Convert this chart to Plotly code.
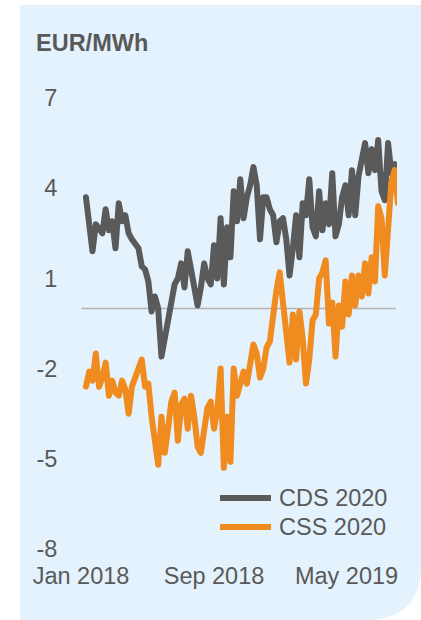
import plotly.graph_objects as go
import pandas as pd

# ---- data ----
series_names = ["CDS 2020", "CSS 2020"]
cds_2020 = [3.7, 2.6, 1.9, 2.8, 2.6, 2.5, 3.3, 2.6, 2.9, 2.0,
            3.5, 2.9, 3.1, 2.5, 2.3, 2.1, 2.0, 1.4, 1.3, 0.9,
            -0.1, 0.4, 0.0, -1.6, -1.0, -0.6, 0.2, 0.8, 1.0, 1.5,
            0.7, 1.9, 1.3, 0.6, 0.1, 0.7, 1.5, 1.0, 0.8, 2.1,
            1.0, 3.0, 0.8, 2.7, 1.7, 3.9, 2.9, 4.3, 3.0, 3.7,
            4.1, 4.7, 4.1, 2.3, 3.7, 3.7, 3.3, 3.1, 2.2, 2.9,
            3.0, 2.3, 1.1, 2.0, 3.1, 1.7, 3.5, 3.1, 4.3, 2.7,
            2.4, 3.9, 2.6, 3.5, 2.8, 4.5, 2.4, 2.8, 3.7, 4.1,
            3.1, 4.6, 3.1, 4.4, 5.0, 5.5, 4.5, 5.3, 4.6, 5.6,
            3.9, 3.6, 5.5, 4.5, 4.8, 4.7]
css_2020 = [-2.6, -2.1, -2.4, -1.5, -2.6, -2.3, -1.8, -2.9, -2.4, -2.8,
            -2.9, -2.4, -2.7, -3.5, -2.6, -2.3, -2.0, -1.7, -2.6, -2.5,
            -3.6, -4.6, -5.2, -3.6, -4.8, -4.0, -3.1, -2.8, -4.4, -3.2,
            -3.0, -4.0, -2.9, -3.6, -4.6, -4.8, -4.0, -3.3, -3.1, -4.0,
            -3.4, -2.0, -5.3, -3.6, -5.1, -2.0, -2.9, -2.4, -2.1, -2.5,
            -1.9, -1.2, -1.5, -2.3, -2.0, -1.3, -1.1, -0.1, 0.6, 1.2,
            0.2, -1.2, -1.8, -0.2, -1.7, -0.1, -1.0, -2.5, -1.7, -0.4,
            -0.2, 1.0, 1.2, 1.6, -0.5, 0.2, -1.6, 0.1, -0.6, 0.9,
            -0.2, 1.1, 0.1, 1.1, 0.4, 1.5, 0.5, 1.7, 0.9, 3.4,
            3.0, 1.1, 3.1, 4.2, 4.6, 3.5]
start_date = "2018-01-10"
date_step = "6D"
x_tick_dates = ["2018-01-01", "2018-09-01", "2019-05-01"]
x_tick_labels = ["Jan 2018", "Sep 2018", "May 2019"]
y_tick_values = [7, 4, 1, -2, -5, -8]
y_tick_labels = ["7", "4", "1", "-2", "-5", "-8"]
unit_label = "EUR/MWh"

dates = pd.date_range(start_date, periods=len(cds_2020), freq=date_step)

# ---- styling ----
W, H = 421, 620
ML, MR, MT, MB = 80, 24, 98, 71
PW, PH = W - ML - MR, H - MT - MB
GRAY = "#5a5a5a"
ORANGE = "#ef8b1f"
TEXT = "#595959"
BG = "#e3f2fc"
FONT = "Liberation Sans, Arial, sans-serif"
FS = 23.5
LW = 6


def px(xp):
    return (xp - ML) / PW


def py(yp):
    return (H - MB - yp) / PH


fig = go.Figure()
fig.add_trace(go.Scatter(x=dates, y=cds_2020, mode="lines", name=series_names[0],
                         line=dict(color=GRAY, width=LW), showlegend=False))
fig.add_trace(go.Scatter(x=dates, y=css_2020, mode="lines", name=series_names[1],
                         line=dict(color=ORANGE, width=LW), showlegend=False))

shapes = []
# background panel with rounded bottom-right corner
r = 55
path = (f"M {px(20)},{py(5)} L {px(W)},{py(5)} L {px(W)},{py(H - r)} "
        f"Q {px(W)},{py(H)} {px(W - r)},{py(H)} L {px(20)},{py(H)} Z")
shapes.append(dict(type="path", path=path, xref="paper", yref="paper",
                   fillcolor=BG, line=dict(width=0), layer="below"))
# zero line
shapes.append(dict(type="line", xref="x", yref="y", x0="2018-01-02", x1="2019-07-30",
                   y0=0, y1=0, line=dict(color="#b3b3b3", width=1.5), layer="below"))
# custom legend sample lines
legend_rows = [(498, GRAY), (527, ORANGE)]
annotations = []
for (yy, col), name in zip(legend_rows, series_names):
    shapes.append(dict(type="line", xref="paper", yref="paper",
                       x0=px(220), x1=px(271), y0=py(yy), y1=py(yy),
                       line=dict(color=col, width=LW)))
    annotations.append(dict(text=name, xref="paper", yref="paper", x=px(277), y=py(yy),
                            xanchor="left", yanchor="middle", showarrow=False,
                            font=dict(family=FONT, size=FS, color=TEXT)))
annotations.append(dict(text=f"<b>{unit_label}</b>", xref="paper", yref="paper",
                        x=px(34), y=py(43), xanchor="left", yanchor="middle",
                        showarrow=False, font=dict(family=FONT, size=FS, color=TEXT)))

fig.update_layout(
    width=W, height=H,
    margin=dict(l=ML, r=MR, t=MT, b=MB, pad=0),
    paper_bgcolor="white", plot_bgcolor="rgba(0,0,0,0)",
    shapes=shapes, annotations=annotations, showlegend=False,
    font=dict(family=FONT, size=FS, color=TEXT),
    xaxis=dict(type="date", range=["2017-12-30 04:00", "2019-08-01 07:00"],
               tickvals=x_tick_dates, ticktext=x_tick_labels,
               showgrid=False, zeroline=False, showline=False,
               ticks="outside", ticklen=6, tickcolor="rgba(0,0,0,0)",
               tickfont=dict(family=FONT, size=FS, color=TEXT)),
    yaxis=dict(range=[-8, 7], tickvals=y_tick_values, ticktext=y_tick_labels,
               showgrid=False, zeroline=False, showline=False,
               ticks="outside", ticklen=17, tickcolor="rgba(0,0,0,0)",
               tickfont=dict(family=FONT, size=FS, color=TEXT)),
)

post = ("document.body.style.margin='0';"
        "document.querySelectorAll('.js-line').forEach(function(p){"
        "p.style.strokeLinejoin='round';p.style.strokeLinecap='round';});")
fig.write_html("out.html", post_script=post, config={"displayModeBar": False})
